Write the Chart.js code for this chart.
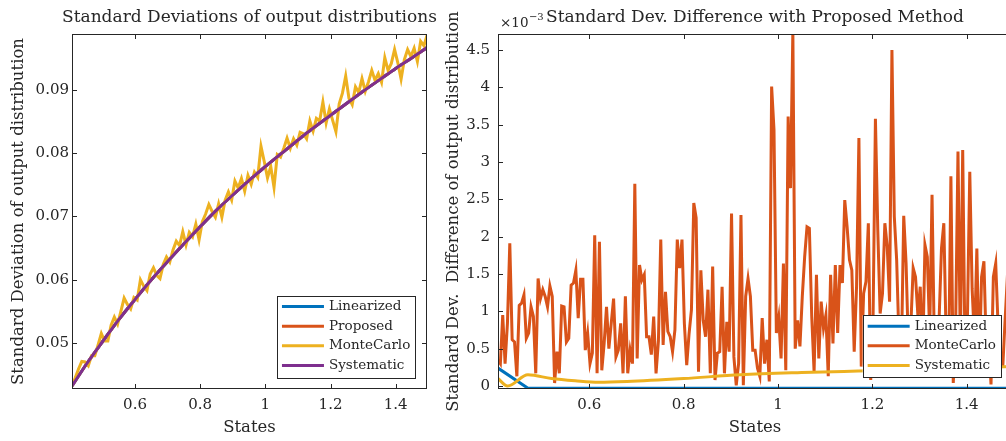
<!DOCTYPE html>
<html>
<head>
<meta charset="utf-8">
<script src="https://cdn.jsdelivr.net/npm/chart.js@4.4.0/dist/chart.umd.min.js"></script>
<style>
  html, body { margin: 0; padding: 0; background: #fff; width: 1006px; height: 441px; overflow: hidden; }
  .panel { position: absolute; top: 0; }
</style>
</head>
<body>
<div class="panel" style="left:0"><canvas id="stdChart" width="495" height="441"></canvas></div>
<div class="panel" style="left:430px"><canvas id="diffChart" width="620" height="441"></canvas></div>
<script>
// ---- data: left panel (standard deviations) ----
const modelStates = [0.4065, 0.45, 0.5, 0.55, 0.6, 0.65, 0.7, 0.75, 0.8, 0.85, 0.9, 0.95,
  1.0, 1.05, 1.1, 1.15, 1.2, 1.25, 1.3, 1.35, 1.4, 1.45, 1.496];
// Linearized, Proposed and Systematic lie on top of each other in this panel
const modelStd = [0.0432, 0.0466, 0.0502, 0.0537, 0.0569, 0.0600, 0.0629, 0.0657, 0.0684, 0.0710,
  0.0734, 0.0757, 0.0779, 0.0800, 0.0821, 0.0841, 0.0860, 0.0879, 0.0898, 0.0916, 0.0934, 0.0951, 0.0967];
const monteCarloStd = [
  0.0432, 0.0445, 0.0459, 0.0471, 0.0470, 0.0464, 0.0480, 0.0480, 0.0497, 0.0515,
  0.0503, 0.0503, 0.0528, 0.0541, 0.0530, 0.0550, 0.0571, 0.0561, 0.0554, 0.0572,
  0.0568, 0.0600, 0.0590, 0.0583, 0.0609, 0.0619, 0.0607, 0.0602, 0.0624, 0.0636,
  0.0628, 0.0647, 0.0661, 0.0654, 0.0676, 0.0655, 0.0675, 0.0668, 0.0688, 0.0663,
  0.0692, 0.0704, 0.0719, 0.0708, 0.0699, 0.0720, 0.0699, 0.0726, 0.0739, 0.0726,
  0.0756, 0.0745, 0.0760, 0.0740, 0.0765, 0.0751, 0.0770, 0.0762, 0.0811, 0.0787,
  0.0761, 0.0779, 0.0746, 0.0798, 0.0794, 0.0808, 0.0824, 0.0808, 0.0823, 0.0813,
  0.0833, 0.0831, 0.0823, 0.0851, 0.0835, 0.0855, 0.0851, 0.0881, 0.0848, 0.0870,
  0.0852, 0.0834, 0.0878, 0.0895, 0.0922, 0.0887, 0.0877, 0.0905, 0.0896, 0.0918,
  0.0898, 0.0913, 0.0931, 0.0915, 0.0926, 0.0912, 0.0951, 0.0931, 0.0942, 0.0964,
  0.0943, 0.0917, 0.0948, 0.0964, 0.0953, 0.0966, 0.0945, 0.0977, 0.0970, 0.0987
];
const stdXTicks = [0.6, 0.8, 1, 1.2, 1.4];
const stdYTicks = [0.05, 0.06, 0.07, 0.08, 0.09];

// ---- data: right panel (difference to proposed, in units of 1e-3) ----
const linDiffStates = [0.4065, 0.47, 1.496];
const linDiff = [0.24, -0.03, -0.03];
const sysDiffStates = [0.4065, 0.427, 0.47, 0.52, 0.57, 0.62, 0.68, 0.8, 0.92, 1.05, 1.17, 1.3, 1.496];
const sysDiff = [0.10, 0.0, 0.15, 0.10, 0.07, 0.05, 0.06, 0.10, 0.15, 0.18, 0.20, 0.22, 0.26];
const monteCarloDiff = [
  0.35, 0.30, 0.95, 0.30, 0.84, 1.91, 0.62, 0.59, 0.13, 1.08,
  1.11, 1.22, 0.64, 0.71, 1.06, 0.93, 0.17, 1.44, 1.17, 1.29,
  1.20, 1.06, 1.34, 1.20, 0.04, 0.46, 0.17, 1.07, 1.06, 0.59,
  0.64, 1.35, 1.38, 1.55, 0.91, 1.43, 1.43, 0.48, 0.71, 0.30,
  0.44, 2.02, 0.17, 1.93, 0.21, 0.57, 1.06, 0.50, 0.84, 1.17,
  0.39, 0.48, 0.84, 0.17, 1.20, 0.17, 0.48,
  0.30, 2.71, 0.37, 1.62, 1.42, 1.49, 0.66, 0.66, 0.42, 0.93,
  0.17, 0.60, 1.96, 0.55, 1.26, 0.73, 0.66, 0.46, 0.75, 1.96,
  1.58, 1.96, 0.84, 0.28, 0.70, 1.02, 2.45, 2.25, 0.19, 1.55,
  0.88, 0.66, 1.29, 0.17, 1.60, 0.08, 0.44, 0.46, 1.33, 0.17,
  0.86, 0.46, 2.31, 0.39, 0.01, 0.30, 2.29, 0.01, 1.20, 1.44,
  1.20, 0.48,
  0.48, 0.24, 0.13, 0.91, 0.30, 0.62, 0.06, 4.01, 3.43, 0.71,
  0.92, 0.37, 1.64, 0.21, 3.61, 2.65, 4.75, 0.50, 0.88, 0.53,
  1.20, 1.73, 2.13, 2.11, 0.93, 0.19, 1.49, 0.37, 1.13, 0.77,
  0.95, 0.13, 1.49, 0.57, 1.62, 0.71, 1.62, 1.38, 2.49, 2.13,
  1.69, 1.55, 0.46, 1.33, 3.32, 0.26, 1.24, 1.40, 2.18, 0.08,
  0.90, 3.58,
  2.09, 0.97, 1.24, 2.18, 1.87, 1.13, 4.50, 2.27, 1.69, 0.60,
  0.40, 2.28, 1.64, 0.50, 0.80, 1.58, 1.46, 0.95, 1.33, 0.30,
  1.89, 1.73, 0.70, 2.56, 0.50, 0.30, 0.90, 1.84, 2.18, 0.60,
  0.20, 2.81, 0.04, 0.80, 3.14, 0.50, 3.16, 0.40, 0.90, 2.87,
  1.30, 0.60, 1.84, 0.20, 1.46, 1.67, 0.50, 0.70, 0.02, 1.46,
  1.64, 0.80, 0.26, 0.26, 0.90, 1.50, 0.70
];
const diffXTicks = [0.6, 0.8, 1, 1.2, 1.4];
const diffYTicks = [0, 0.5, 1, 1.5, 2, 2.5, 3, 3.5, 4, 4.5];

// states are evenly spaced in the simulation
function stateGrid(first, step, count) {
  return Array.from({length: count}, (_, i) => +(first + i * step).toFixed(4));
}
const mcStates = stateGrid(0.4065, 0.01, monteCarloStd.length);
const mcDiffStates = stateGrid(0.4065, 0.005, monteCarloDiff.length);

const toPoints = (xs, ys) => xs.map((x, i) => ({x: x, y: ys[i]}));

const FONT = "'DejaVu Serif', serif";
const INK = '#262626';
const BLUE = '#0072BD', ORANGE = '#D95319', YELLOW = '#EDB120', PURPLE = '#7E2F8E';
const LW = 3;

// matlab style box, inward ticks, title and legend
const matlabAxes = {
  id: 'matlabAxes',
  afterDatasetsDraw(chart, args, opts) {
    const {ctx, chartArea: a, scales: {x, y}} = chart;
    ctx.save();
    ctx.strokeStyle = INK;
    ctx.lineWidth = 1;
    ctx.strokeRect(Math.round(a.left) + 0.5, Math.round(a.top) + 0.5,
      Math.round(a.right - a.left) - 1, Math.round(a.bottom - a.top) - 1);
    ctx.beginPath();
    x.ticks.forEach(t => {
      const px = Math.round(x.getPixelForValue(t.value)) + 0.5;
      ctx.moveTo(px, a.bottom); ctx.lineTo(px, a.bottom - 5);
      ctx.moveTo(px, a.top); ctx.lineTo(px, a.top + 5);
    });
    y.ticks.forEach(t => {
      const py = Math.round(y.getPixelForValue(t.value)) + 0.5;
      ctx.moveTo(a.left, py); ctx.lineTo(a.left + 5, py);
      ctx.moveTo(a.right, py); ctx.lineTo(a.right - 5, py);
    });
    ctx.stroke();

    // title
    ctx.fillStyle = INK;
    ctx.textAlign = 'center';
    ctx.textBaseline = 'middle';
    ctx.font = '17px ' + FONT;
    ctx.fillText(opts.title, (a.left + a.right) / 2, 18);
    if (opts.exponent) {
      ctx.textAlign = 'left';
      ctx.font = '13.5px ' + FONT;
      ctx.fillText('\u00d710', a.left + 2, 23);
      const w = ctx.measureText('\u00d710').width;
      ctx.font = '10px ' + FONT;
      ctx.fillText(opts.exponent, a.left + 2 + w + 0.5, 17);
    }

    // legend
    const items = chart.data.datasets;
    ctx.font = '13.5px ' + FONT;
    const textW = Math.max(...items.map(d => ctx.measureText(d.label).width));
    const rowH = 19.6;
    const boxW = 52 + textW + 5;
    const boxH = items.length * rowH + 3.3;
    const right = a.right - opts.legendRight, bottom = a.bottom - 11.7;
    const left = right - boxW, top = bottom - boxH;
    ctx.fillStyle = '#fff';
    ctx.fillRect(left, top, boxW, boxH);
    ctx.strokeStyle = INK;
    ctx.lineWidth = 1;
    ctx.strokeRect(Math.round(left) + 0.5, Math.round(top) + 0.5, Math.round(boxW), Math.round(boxH));
    items.forEach((d, i) => {
      const cy = top + 11 + i * rowH;
      ctx.strokeStyle = d.borderColor;
      ctx.lineWidth = LW;
      ctx.beginPath();
      ctx.moveTo(left + 5, cy); ctx.lineTo(left + 47, cy);
      ctx.stroke();
      ctx.fillStyle = INK;
      ctx.textAlign = 'left';
      ctx.textBaseline = 'middle';
      ctx.fillText(d.label, left + 52, cy);
    });
    ctx.restore();
  }
};

function line(label, color, data, order, smooth) {
  return {
    label: label, data: data, borderColor: color, backgroundColor: color,
    borderWidth: LW, pointRadius: 0, fill: false, order: order,
    cubicInterpolationMode: smooth ? 'monotone' : 'default', tension: 0
  };
}

function axesOptions(cfg) {
  const tickFont = {family: FONT, size: 15};
  const titleFont = {family: FONT, size: 16.5};
  return {
    responsive: false,
    animation: false,
    layout: {padding: {left: 0, right: cfg.padRight, top: 34, bottom: 0}},
    plugins: {
      legend: {display: false},
      tooltip: {enabled: false},
      matlabAxes: {title: cfg.title, exponent: cfg.exponent, legendRight: cfg.legendRight}
    },
    scales: {
      x: {
        type: 'linear', min: cfg.xMin, max: cfg.xMax,
        grid: {display: false, drawTicks: false}, border: {display: false},
        afterBuildTicks: s => { s.ticks = cfg.xTicks.map(v => ({value: v})); },
        afterFit: s => { s.height = 52; },
        ticks: {color: INK, font: tickFont, padding: 7, maxRotation: 0, minRotation: 0,
          callback: v => String(v)},
        title: {display: true, text: 'States', color: INK, font: titleFont, padding: {top: 0, bottom: 3.1}}
      },
      y: {
        type: 'linear', min: cfg.yMin, max: cfg.yMax,
        grid: {display: false, drawTicks: false}, border: {display: false},
        afterBuildTicks: s => { s.ticks = cfg.yTicks.map(v => ({value: v})); },
        afterFit: s => { s.width = cfg.yWidth; },
        ticks: {color: INK, font: tickFont, padding: cfg.yTickPad, callback: v => String(v)},
        title: {display: true, text: cfg.yTitle, color: INK, font: titleFont, padding: {top: cfg.yTitlePad, bottom: 0}}
      }
    }
  };
}

new Chart(document.getElementById('stdChart'), {
  type: 'line',
  data: {
    datasets: [
      line('Linearized', BLUE, toPoints(modelStates, modelStd), 4, true),
      line('Proposed', ORANGE, toPoints(modelStates, modelStd), 3, true),
      line('MonteCarlo', YELLOW, toPoints(mcStates, monteCarloStd), 2, false),
      line('Systematic', PURPLE, toPoints(modelStates, modelStd), 1, true)
    ]
  },
  options: axesOptions({
    xMin: 0.4065, xMax: 1.496, yMin: 0.04273, yMax: 0.09885,
    xTicks: stdXTicks, yTicks: stdYTicks,
    yTitle: 'Standard Deviation of output distribution',
    yWidth: 72, yTickPad: 3, yTitlePad: 8.6, padRight: 68,
    title: 'Standard Deviations of output distributions', exponent: null, legendRight: 11.7
  }),
  plugins: [matlabAxes]
});

new Chart(document.getElementById('diffChart'), {
  type: 'line',
  data: {
    datasets: [
      line('Linearized', BLUE, toPoints(linDiffStates, linDiff), 3, false),
      line('MonteCarlo', ORANGE, toPoints(mcDiffStates, monteCarloDiff), 2, false),
      line('Systematic', YELLOW, toPoints(sysDiffStates, sysDiff), 1, true)
    ]
  },
  options: axesOptions({
    xMin: 0.4065, xMax: 1.496, yMin: -0.04, yMax: 4.714,
    xTicks: diffXTicks, yTicks: diffYTicks,
    yTitle: 'Standard Dev.  Difference of output distribution',
    yWidth: 68, yTickPad: 8, yTitlePad: 13.6, padRight: 38,
    title: 'Standard Dev. Difference with Proposed Method', exponent: '\u22123', legendRight: 11
  }),
  plugins: [matlabAxes]
});
</script>
</body>
</html>
